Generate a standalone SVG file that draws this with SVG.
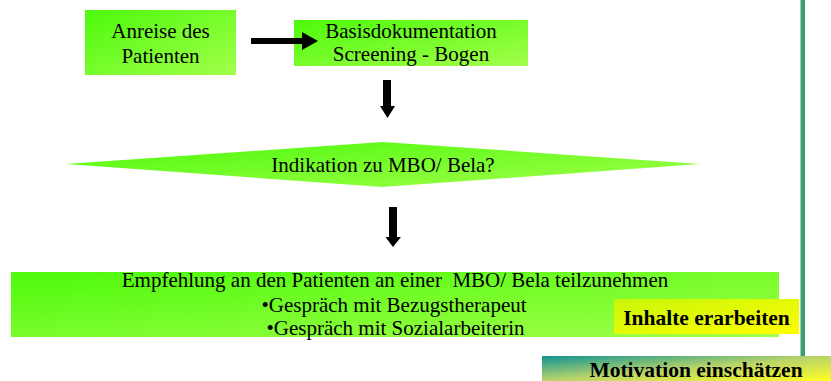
<svg xmlns="http://www.w3.org/2000/svg" width="831" height="381" viewBox="0 0 831 381">
<defs>
<linearGradient id="g" x1="0" y1="0" x2="1" y2="1"><stop offset="0" stop-color="#4dfa0c"/><stop offset="1" stop-color="#a2ff4a"/></linearGradient>
<linearGradient id="y" x1="0" y1="0" x2="1" y2="1"><stop offset="0" stop-color="#c8f50a"/><stop offset="1" stop-color="#ffff00"/></linearGradient>
<linearGradient id="m" x1="0" y1="0" x2="1" y2="1"><stop offset="0" stop-color="#0f9393"/><stop offset="0.5" stop-color="#b9d46a"/><stop offset="1" stop-color="#ffff22"/></linearGradient>
<style>
.t{font-family:"Liberation Serif","Times New Roman",serif;font-size:21px;fill:#000;text-anchor:middle}
.b{font-family:"Liberation Serif","Times New Roman",serif;font-size:21.5px;font-weight:bold;fill:#000;text-anchor:middle}
.a{fill:#000}
</style>
</defs>
<rect width="831" height="381" fill="#fff"/>
<g id="sideline"><rect x="800.5" y="0" width="4.5" height="356" fill="#3a9d6c"/></g>
<g id="anreise"><rect x="85" y="10" width="151" height="65" fill="url(#g)"/>
<text class="t" x="160.5" y="38">Anreise des</text><text class="t" x="160.5" y="63">Patienten</text></g>
<g id="basis"><rect x="294" y="20" width="234" height="46" fill="url(#g)"/>
<text class="t" x="411" y="38">Basisdokumentation</text><text class="t" x="411" y="61">Screening - Bogen</text></g>
<g id="indikation"><polygon points="66,164 383,142 700,164 382,187" fill="url(#g)"/>
<text class="t" x="383" y="172">Indikation zu MBO/ Bela?</text></g>
<g id="empfehlung"><rect x="11" y="272" width="768" height="65" fill="url(#g)"/>
<text class="t" x="395" y="287" xml:space="preserve">Empfehlung an den Patienten an einer  MBO/ Bela teilzunehmen</text>
<text class="t" x="394" y="312">•Gespräch mit Bezugstherapeut</text>
<text class="t" x="395.5" y="335">•Gespräch mit Sozialarbeiterin</text></g>
<g id="inhalte"><rect x="614" y="299" width="185" height="35" fill="url(#y)"/>
<text class="b" x="706.5" y="325">Inhalte erarbeiten</text></g>
<g id="motivation"><rect x="542" y="356" width="289" height="25" fill="url(#m)"/>
<text class="b" x="696" y="377">Motivation einschätzen</text></g>
<g id="connectors">
<path class="a" d="M251,38H302V32L318,41L302,50V44H251Z"/>
<path class="a" d="M383,80H391V106H395L387.5,118L380,106H383Z"/>
<path class="a" d="M389,207H397V237H401L393,247L385.5,237H389Z"/>
</g>
</svg>
